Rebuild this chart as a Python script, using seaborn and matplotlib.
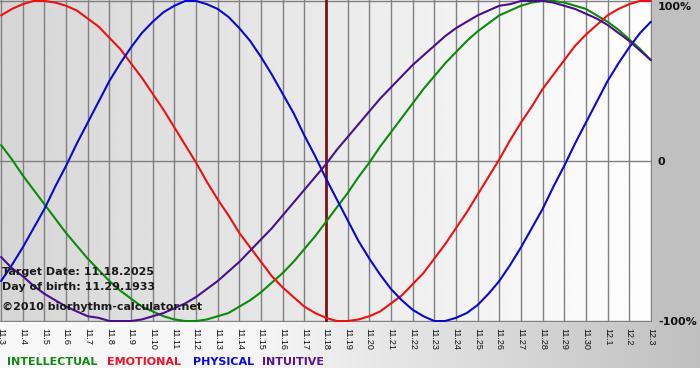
import numpy as np
import pandas as pd
import matplotlib
matplotlib.use('Agg')
import matplotlib.pyplot as plt
import seaborn as sns

# --- chart data: percent values read every half day from 11.3 to 12.3 ---
DAY_LABELS = ['11.3', '11.4', '11.5', '11.6', '11.7', '11.8', '11.9', '11.10', '11.11',
              '11.12', '11.13', '11.14', '11.15', '11.16', '11.17', '11.18', '11.19',
              '11.20', '11.21', '11.22', '11.23', '11.24', '11.25', '11.26', '11.27',
              '11.28', '11.29', '11.30', '12.1', '12.2', '12.3']

INTELLECTUAL = [10, 1, -9, -18, -27, -36, -45, -53, -61, -68, -75, -81, -86, -91, -94, -97,
                -99, -100, -100, -99, -97, -95, -91, -87, -82, -76, -70, -63, -55, -47,
                -38, -29, -20, -10, -1, 9, 18, 27, 36, 45, 53, 61, 68, 75, 81, 86,
                91, 94, 97, 99, 100, 100, 99, 97, 95, 91, 87, 82, 76, 70, 63]
EMOTIONAL = [91, 95, 98, 100, 100, 99, 97, 94, 89, 84, 77, 70, 61, 52, 42, 32,
             21, 10, -1, -13, -24, -34, -45, -54, -63, -72, -79, -85, -91, -95,
             -98, -100, -100, -99, -97, -94, -89, -84, -77, -70, -61, -52, -42, -32, -21, -10,
             1, 13, 24, 34, 45, 54, 63, 72, 79, 85, 91, 95, 98, 100, 100]
PHYSICAL = [-75, -65, -54, -42, -30, -16, -3, 11, 24, 37, 50, 61, 71, 80, 87, 93,
            97, 100, 100, 98, 95, 90, 83, 75, 65, 54, 42, 30, 16, 3,
            -11, -24, -37, -50, -61, -71, -80, -87, -93, -97, -100, -100, -98, -95, -90, -83,
            -75, -65, -54, -42, -30, -16, -3, 11, 24, 37, 50, 61, 71, 80, 87]
INTUITIVE = [-60, -67, -72, -78, -83, -87, -91, -94, -97, -98, -100, -100, -100, -99, -97, -95,
             -92, -89, -85, -80, -75, -69, -63, -56, -49, -42, -34, -26, -18, -10,
             -2, 7, 15, 23, 31, 39, 46, 53, 60, 66, 72, 78, 83, 87, 91, 94,
             97, 98, 100, 100, 100, 99, 97, 95, 92, 89, 85, 80, 75, 69, 63]

RHYTHMS = ['INTELLECTUAL', 'EMOTIONAL', 'PHYSICAL', 'INTUITIVE']
TARGET_DAY = '11.18'
TARGET_TEXT = 'Target Date: 11.18.2025'
BIRTH_TEXT = 'Day of birth: 11.29.1933'
CREDIT_TEXT = '\u00a92010 biorhythm-calculator.net'

LINE_COLORS = {'INTELLECTUAL': '#0c8a0c', 'EMOTIONAL': '#ee1111',
               'PHYSICAL': '#0a0acc', 'INTUITIVE': '#4b0f8c'}
TEXT_COLORS = {'INTELLECTUAL': '#108a10', 'EMOTIONAL': '#f0102a',
               'PHYSICAL': '#0a0ae0', 'INTUITIVE': '#5a1490'}

W, H = 700, 380


def px(x, y):
    """pixel (from top-left) -> figure fraction"""
    return x / W, 1 - y / H


def main():
    sns.set_style('white')
    plt.rcParams['font.family'] = ['DejaVu Sans']

    n = len(DAY_LABELS)
    steps = np.arange(len(INTELLECTUAL)) / 2.0   # half-day positions on the day axis
    df = pd.DataFrame({
        'day': np.tile(steps, 4),
        'value': INTELLECTUAL + EMOTIONAL + PHYSICAL + INTUITIVE,
        'rhythm': np.repeat(RHYTHMS, len(steps)),
    })

    fig = plt.figure(figsize=(W / 100, H / 100), dpi=100)

    # outer background: grey panel on the right, gradient band under the plot, white strip at the bottom
    bg = np.ones((H, W))
    cols = np.arange(W)
    bg[:322, 652:] = 0.753
    bg[322:368, :] = np.interp(cols, [0, 260, 700], [0.975, 0.965, 0.75])[None, :]
    bgax = fig.add_axes([0, 0, 1, 1], zorder=-10)
    bgax.imshow(np.dstack([bg] * 3), extent=[0, 1, 0, 1], aspect='auto')
    bgax.axis('off')

    ax = fig.add_axes([0, 58 / H, 652 / W, 322 / H])
    xlim = (-0.05, n - 1 + 0.05)
    ylim = (-100.6, 100.6)

    # plot area gradient
    grad = np.linspace(0.84, 0.995, 256)[None, :]
    ax.imshow(grad, extent=[*xlim, *ylim], aspect='auto', cmap='gray', vmin=0, vmax=1, zorder=0)

    sns.lineplot(data=df, x='day', y='value', hue='rhythm', hue_order=RHYTHMS,
                 palette=LINE_COLORS, linewidth=1.5, legend=False, ax=ax, zorder=3)

    ax.axvline(DAY_LABELS.index(TARGET_DAY), color='#7a1414', lw=2, zorder=2)

    ax.set_xlim(*xlim)
    ax.set_ylim(*ylim)
    ax.set_xticks(range(n))
    ax.set_xticklabels(DAY_LABELS, rotation=-90, fontsize=6.5, family='Liberation Sans',
                       color='#111111', ha='center', va='top')
    ax.set_yticks([-100, 0, 100])
    ax.set_yticklabels([])
    ax.tick_params(axis='x', length=3, color='#808080', width=1, pad=1)
    ax.tick_params(axis='y', length=0)
    ax.set_axisbelow(True)
    ax.grid(True, color='#808080', linewidth=1, zorder=1)
    for s in ax.spines.values():
        s.set_visible(False)
    ax.set_xlabel('')
    ax.set_ylabel('')

    # right scale labels
    for txt, yy in [('100%', 7), ('0', 162), ('-100%', 322)]:
        fig.text(*px(658, yy), txt, fontsize=8, fontweight='bold', color='#111111',
                 va='center', ha='left')

    # info texts inside the plot
    for txt, yy in [(TARGET_TEXT, 272), (BIRTH_TEXT, 287), (CREDIT_TEXT, 307)]:
        fig.text(*px(2, yy), txt, fontsize=8, fontweight='bold', color='#1a1a1a',
                 va='center', ha='left', zorder=5)

    # colour legend row
    for name, xx in zip(RHYTHMS, [7, 107, 193, 262]):
        fig.text(*px(xx, 362), name, fontsize=8, fontweight='bold',
                 color=TEXT_COLORS[name], va='center', ha='left')

    fig.savefig('out.png', dpi=100)
    plt.close(fig)


if __name__ == '__main__':
    main()
